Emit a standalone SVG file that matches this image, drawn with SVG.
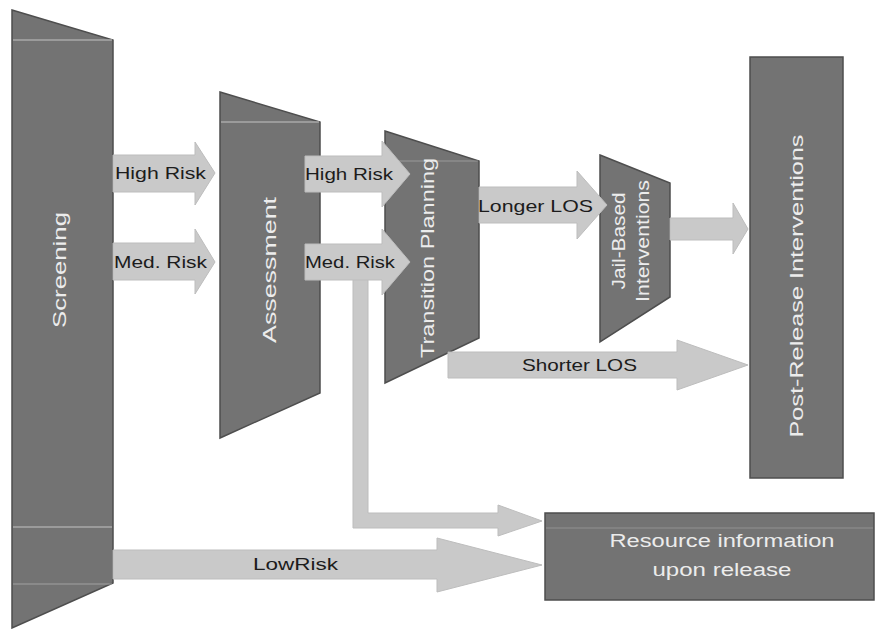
<svg xmlns="http://www.w3.org/2000/svg" width="875" height="629" viewBox="0 0 875 629">
<style>
.node{fill:#737373;stroke:#4e4e4e;stroke-width:1.5}
.seam{stroke:#a8a8a8;stroke-width:1.5;fill:none}
.arr{fill:#c9c9c9;stroke:#bdbdbd;stroke-width:1}
.nt{font-family:"Liberation Sans",Arial,sans-serif;font-size:18px;fill:#ececec;text-anchor:middle}
.at{font-family:"Liberation Sans",Arial,sans-serif;font-size:17px;fill:#1c1c1c}
</style>
<rect width="875" height="629" fill="#ffffff"/>
<g id="screening">
<polygon class="node" points="12,10 113,40 113,583 12,628"/>
<line class="seam" x1="13" y1="40" x2="112" y2="40"/>
<line class="seam" x1="13" y1="527" x2="112" y2="527"/>
<line class="seam" x1="13" y1="584" x2="112" y2="584" opacity="0.6"/>
<text class="nt" transform="translate(60,270) rotate(-90)" y="6" textLength="116" lengthAdjust="spacingAndGlyphs">Screening</text>
</g>
<g id="assessment">
<polygon class="node" points="220,92 320,122 320,393 220,438"/>
<line class="seam" x1="221" y1="122" x2="319" y2="122"/>
<text class="nt" transform="translate(270,270) rotate(-90)" y="6" textLength="146" lengthAdjust="spacingAndGlyphs">Assessment</text>
</g>
<g id="transition-planning">
<polygon class="node" points="385,131 479,161 479,338 385,383"/>
<line class="seam" x1="386" y1="161" x2="478" y2="161" opacity="0.5"/>
<text class="nt" transform="translate(428,258) rotate(-90)" y="6" textLength="200" lengthAdjust="spacingAndGlyphs">Transition Planning</text>
</g>
<g id="jail-based-interventions">
<polygon class="node" points="600,155 670,183 670,297 600,342"/>
<text class="nt" transform="translate(619,241) rotate(-90)" y="6" textLength="97" lengthAdjust="spacingAndGlyphs">Jail-Based</text>
<text class="nt" transform="translate(643,241) rotate(-90)" y="6" textLength="122" lengthAdjust="spacingAndGlyphs">Interventions</text>
</g>
<g id="post-release-interventions">
<rect class="node" x="750" y="57" width="93" height="421"/>
<text class="nt" transform="translate(797,286) rotate(-90)" y="6" textLength="303" lengthAdjust="spacingAndGlyphs">Post-Release Interventions</text>
</g>
<g id="resource-information">
<rect class="node" x="545" y="513" width="329" height="87"/>
<line class="seam" x1="546" y1="528" x2="873" y2="528" opacity="0.4"/>
<text class="nt" x="722" y="547" font-size="20" textLength="225" lengthAdjust="spacingAndGlyphs">Resource information</text>
<text class="nt" x="722" y="576" font-size="20" textLength="139" lengthAdjust="spacingAndGlyphs">upon release</text>
</g>
<g id="connectors">
<polygon class="arr" points="113,155 195,155 195,142 215,173 195,205 195,192 113,192"/>
<polygon class="arr" points="113,243 195,243 195,229 215,262 195,294 195,280 113,280"/>
<polygon class="arr" points="305,156 382,156 382,141 410,174 382,207 382,192 305,192"/>
<polygon class="arr" points="353,278 368,278 368,513 498,513 498,505 542,521 498,536 498,528 353,528"/>
<polygon class="arr" points="305,244 382,244 382,229 410,262 382,295 382,280 305,280"/>
<polygon class="arr" points="479,187 577,187 577,171 607,205 577,239 577,223 479,223"/>
<polygon class="arr" points="670,218 733,218 733,203 748,229 733,254 733,240 670,240"/>
<polygon class="arr" points="448,352 677,352 677,340 748,365 677,390 677,378 448,378"/>
<polygon class="arr" points="113,550 437,550 437,538 542,565 437,592 437,579 113,579"/>
<text class="at" x="115" y="179" textLength="91" lengthAdjust="spacingAndGlyphs">High Risk</text>
<text class="at" x="114" y="268" textLength="93" lengthAdjust="spacingAndGlyphs">Med. Risk</text>
<text class="at" x="305" y="180" textLength="88" lengthAdjust="spacingAndGlyphs">High Risk</text>
<text class="at" x="305" y="268" textLength="90" lengthAdjust="spacingAndGlyphs">Med. Risk</text>
<text class="at" x="478" y="212" textLength="115" lengthAdjust="spacingAndGlyphs">Longer LOS</text>
<text class="at" x="522" y="371" textLength="115" lengthAdjust="spacingAndGlyphs">Shorter LOS</text>
<text class="at" x="253" y="570" textLength="85" lengthAdjust="spacingAndGlyphs">LowRisk</text>
</g>
</svg>
